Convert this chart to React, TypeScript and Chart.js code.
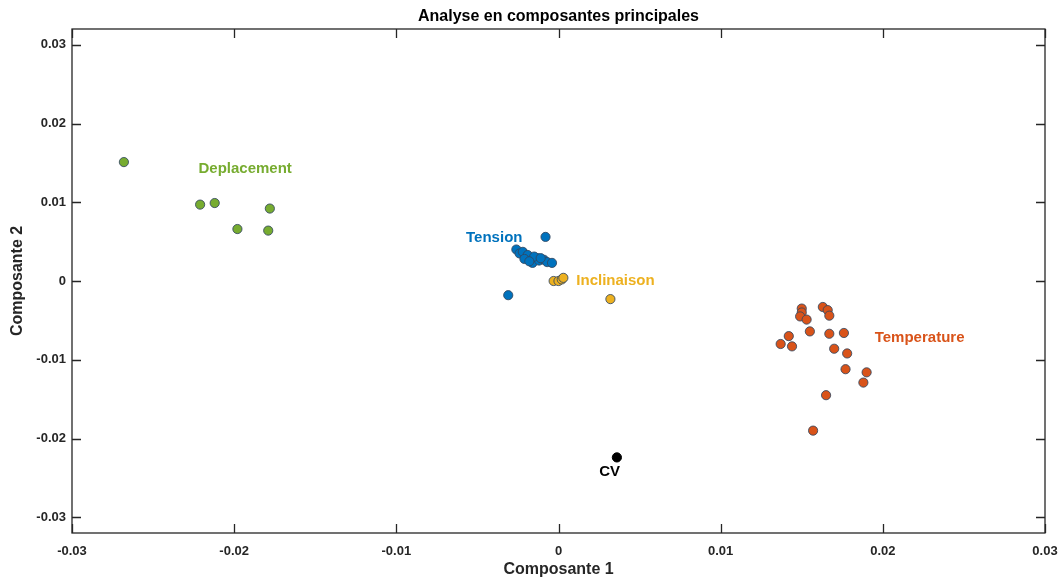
import React, { useEffect, useRef } from "react";
import { Chart, registerables } from "chart.js";

Chart.register(...registerables);

const deplacementX = [-0.0268, -0.0221, -0.0212, -0.0178, -0.0198, -0.0179];
const deplacementY = [0.0151, 0.0097, 0.0099, 0.0092, 0.0066, 0.0064];

const tensionX = [-0.0008, -0.0031, -0.0026, -0.0024, -0.0022, -0.0019, -0.0021, -0.0016, -0.0013, -0.0012, -0.0015, -0.0009, -0.0007, -0.0004, -0.0018, -0.0011];
const tensionY = [0.0056, -0.0018, 0.0040, 0.0035, 0.0037, 0.0033, 0.0028, 0.0023, 0.0029, 0.0026, 0.0031, 0.0027, 0.0024, 0.0023, 0.0025, 0.0029];

const inclinaisonX = [-0.0003, 0.0000, 0.0002, 0.0003, 0.0032];
const inclinaisonY = [0.0000, 0.0000, 0.0002, 0.0004, -0.0023];

const temperatureX = [0.0150, 0.0150, 0.0149, 0.0153, 0.0163, 0.0166, 0.0167, 0.0155, 0.0142, 0.0137, 0.0144, 0.0167, 0.0176, 0.0170, 0.0178, 0.0177, 0.0190, 0.0188, 0.0165, 0.0157];
const temperatureY = [-0.0035, -0.0040, -0.0045, -0.0049, -0.0033, -0.0037, -0.0044, -0.0064, -0.0070, -0.0080, -0.0083, -0.0067, -0.0066, -0.0086, -0.0092, -0.0112, -0.0116, -0.0129, -0.0145, -0.0190];

const cvX = [0.0036];
const cvY = [-0.0224];

const xTicks = [-0.03, -0.02, -0.01, 0, 0.01, 0.02, 0.03];
const yTicks = [-0.03, -0.02, -0.01, 0, 0.01, 0.02, 0.03];

const groupNames = ["Deplacement", "Tension", "Inclinaison", "Temperature", "CV"];
const groupColors = ["#77AC30", "#0072BD", "#EDB120", "#D95319", "#000000"];
const labelX = [-0.0222, -0.0057, 0.0011, 0.0195, 0.00315];
const labelY = [0.0143, 0.0055, 0.0, -0.0072, -0.0242];
const labelAlign: CanvasTextAlign[] = ["left", "left", "left", "left", "center"];

const titleText = "Analyse en composantes principales";
const xTitle = "Composante 1";
const yTitle = "Composante 2";

const FONT = "'Liberation Sans', Arial, Helvetica, sans-serif";

function pts(xs: number[], ys: number[]) {
  return xs.map((x, i) => ({ x, y: ys[i] }));
}

const fmt = (v: any) => String(Number(Number(v).toFixed(2)) + 0);

export default function App() {
  const ref = useRef<HTMLCanvasElement | null>(null);
  useEffect(() => {
    if (!ref.current) return;
    const series = [
      pts(deplacementX, deplacementY),
      pts(tensionX, tensionY),
      pts(inclinaisonX, inclinaisonY),
      pts(temperatureX, temperatureY),
      pts(cvX, cvY),
    ];
    const decor = {
      id: "decor",
      beforeDatasetsDraw(chart: any) {
        const ctx = chart.ctx;
        const { left, right, top, bottom } = chart.chartArea;
        const xs = chart.scales.x;
        const ys = chart.scales.y;
        ctx.save();
        ctx.strokeStyle = "#262626";
        ctx.lineWidth = 1.3;
        ctx.strokeRect(left, top, right - left, bottom - top);
        const tl = 9;
        ctx.beginPath();
        xTicks.forEach((v) => {
          const px = Math.round(xs.getPixelForValue(v)) + 0.5;
          ctx.moveTo(px, bottom);
          ctx.lineTo(px, bottom - tl);
          ctx.moveTo(px, top);
          ctx.lineTo(px, top + tl);
        });
        yTicks.forEach((v) => {
          const py = Math.round(ys.getPixelForValue(v)) + 0.5;
          ctx.moveTo(left, py);
          ctx.lineTo(left + tl, py);
          ctx.moveTo(right, py);
          ctx.lineTo(right - tl, py);
        });
        ctx.stroke();
        ctx.restore();
      },
      afterDraw(chart: any) {
        const ctx = chart.ctx;
        const { left, right, top, bottom } = chart.chartArea;
        const xs = chart.scales.x;
        const ys = chart.scales.y;
        ctx.save();
        ctx.font = `bold 15px ${FONT}`;
        ctx.textBaseline = "middle";
        groupNames.forEach((n, i) => {
          ctx.fillStyle = groupColors[i];
          ctx.textAlign = labelAlign[i];
          ctx.fillText(n, xs.getPixelForValue(labelX[i]), ys.getPixelForValue(labelY[i]));
        });
        ctx.fillStyle = "#000";
        ctx.textAlign = "center";
        ctx.font = `bold 16px ${FONT}`;
        ctx.fillText(titleText, (left + right) / 2, 17);
        ctx.fillStyle = "#262626";
        ctx.font = `bold 16px ${FONT}`;
        ctx.fillText(xTitle, (left + right) / 2, 570);
        ctx.translate(18, (top + bottom) / 2);
        ctx.rotate(-Math.PI / 2);
        ctx.fillText(yTitle, 0, 0);
        ctx.restore();
      },
    };
    const chart = new Chart(ref.current, {
      type: "scatter",
      data: {
        datasets: series.map((d, i) => ({
          label: groupNames[i],
          data: d,
          backgroundColor: groupColors[i],
          borderColor: i === 4 ? "#000" : "rgba(50,70,95,0.85)",
          borderWidth: 1,
          pointRadius: 4.6,
          pointHoverRadius: 4.6,
        })),
      },
      options: {
        responsive: false,
        animation: false,
        layout: { padding: { top: 29, right: 17, left: 0, bottom: 0 } },
        plugins: { legend: { display: false }, tooltip: { enabled: false }, title: { display: false } },
        scales: {
          x: {
            type: "linear",
            min: -0.03,
            max: 0.03,
            afterBuildTicks: (s: any) => {
              s.ticks = xTicks.map((v) => ({ value: v }));
            },
            afterFit: (s: any) => {
              s.height = 47;
              s.paddingLeft = 0;
              s.paddingRight = 0;
            },
            grid: { display: false, drawTicks: false },
            border: { display: false },
            ticks: {
              padding: 11,
              color: "#262626",
              font: { family: FONT, size: 13, weight: "bold" },
              callback: fmt,
            },
          },
          y: {
            type: "linear",
            min: -0.032,
            max: 0.032,
            afterBuildTicks: (s: any) => {
              s.ticks = yTicks.map((v) => ({ value: v }));
            },
            afterFit: (s: any) => {
              s.width = 72;
              s.paddingTop = 0;
              s.paddingBottom = 0;
            },
            grid: { display: false, drawTicks: false },
            border: { display: false },
            ticks: {
              padding: 6,
              color: "#262626",
              font: { family: FONT, size: 13, weight: "bold" },
              callback: fmt,
            },
          },
        },
      },
      plugins: [decor],
    } as any);
    return () => chart.destroy();
  }, []);
  return (
    <div style={{ position: "fixed", left: 0, top: 0, width: 1062, height: 580, background: "#fff" }}>
      <canvas ref={ref} width={1062} height={580} style={{ width: 1062, height: 580 }} />
    </div>
  );
}
